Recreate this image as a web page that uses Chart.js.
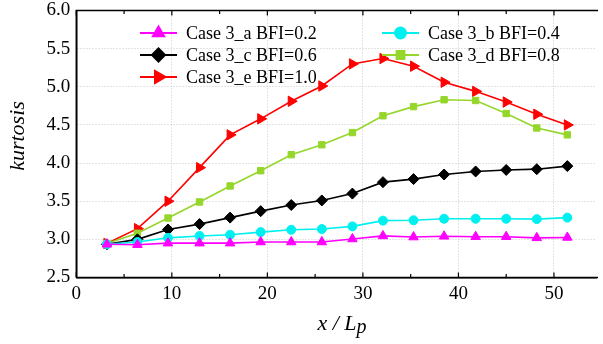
<!DOCTYPE html>
<html><head><meta charset="utf-8">
<script src="https://cdn.jsdelivr.net/npm/chart.js@4/dist/chart.umd.min.js"></script>
<style>html,body{margin:0;padding:0;background:#fff;overflow:hidden}</style>
</head><body>
<canvas id="c" width="603" height="344" style="width:603px;height:344px;display:block"></canvas>
<script>
// x / Lp positions
const xPositions = [3.2, 6.4, 9.6, 12.9, 16.1, 19.3, 22.5, 25.7, 28.9, 32.1, 35.3, 38.5, 41.8, 45.0, 48.2, 51.4];
// kurtosis per case
const caseA = [2.935, 2.93, 2.95, 2.95, 2.95, 2.965, 2.965, 2.965, 3.005, 3.045, 3.03, 3.04, 3.035, 3.035, 3.02, 3.025];
const caseB = [2.935, 2.965, 3.02, 3.045, 3.06, 3.095, 3.125, 3.135, 3.17, 3.245, 3.25, 3.27, 3.27, 3.27, 3.265, 3.285];
const caseC = [2.935, 3.00, 3.13, 3.20, 3.285, 3.37, 3.45, 3.51, 3.60, 3.75, 3.79, 3.85, 3.89, 3.91, 3.92, 3.96];
const caseD = [2.945, 3.08, 3.28, 3.49, 3.70, 3.90, 4.11, 4.24, 4.40, 4.62, 4.74, 4.83, 4.82, 4.65, 4.46, 4.37];
const caseE = [2.945, 3.14, 3.50, 3.94, 4.37, 4.58, 4.81, 5.01, 5.30, 5.37, 5.27, 5.06, 4.94, 4.80, 4.64, 4.50];
const seriesLabels = ['Case 3_a BFI=0.2', 'Case 3_b BFI=0.4', 'Case 3_c BFI=0.6', 'Case 3_d BFI=0.8', 'Case 3_e BFI=1.0'];
const xTickValues = [0, 10, 20, 30, 40, 50];
const yTickValues = [2.5, 3.0, 3.5, 4.0, 4.5, 5.0, 5.5, 6.0];

const SERIF = '"Liberation Serif", "Times New Roman", Times, serif';
const styles = [
  {color: '#ff00ff', pointStyle: 'triangle', radius: 5.5, rotation: 0},
  {color: '#00f0f0', pointStyle: 'circle', radius: 4.5, rotation: 0},
  {color: '#000000', pointStyle: 'rectRot', radius: 5.5, rotation: 0},
  {color: '#95d62a', pointStyle: 'rect', radius: 4.5, rotation: 0},
  {color: '#ff0000', pointStyle: 'triangle', radius: 6, rotation: 90}
];
const seriesData = [caseA, caseB, caseC, caseD, caseE];

function build() {
const datasets = seriesData.map((vals, i) => ({
  label: seriesLabels[i],
  data: vals.map((v, j) => ({x: xPositions[j], y: v})),
  borderColor: styles[i].color,
  backgroundColor: styles[i].color,
  borderWidth: 1.6,
  pointStyle: styles[i].pointStyle,
  pointRadius: styles[i].radius,
  pointRotation: styles[i].rotation,
  pointBorderWidth: 1,
  tension: 0
}));

const decorPlugin = {
  id: 'decor',
  afterDraw(chart) {
    const ctx = chart.ctx;
    const xs = chart.scales.x;
    const a = chart.chartArea;
    ctx.save();
    ctx.setLineDash([]);
    ctx.strokeStyle = '#000';
    ctx.lineWidth = 1.5;
    ctx.beginPath();
    ctx.moveTo(a.left, a.bottom); ctx.lineTo(a.left, a.top); ctx.lineTo(a.right + 2, a.top);
    ctx.moveTo(a.left, a.bottom); ctx.lineTo(a.right + 2, a.bottom);
    ctx.stroke();
    ctx.lineWidth = 1.2;
    ctx.beginPath();
    for (let v = 0; v <= xs.max; v += 5) {
      const px = xs.getPixelForValue(v);
      const len = (v % 10 === 0) ? 5 : 3.5;
      ctx.moveTo(px, a.bottom); ctx.lineTo(px, a.bottom - len);
      ctx.moveTo(px, a.top); ctx.lineTo(px, a.top + len);
    }
    ctx.stroke();
    ctx.fillStyle = '#000';
    ctx.font = 'italic 22px ' + SERIF;
    ctx.textBaseline = 'middle';
    ctx.save();
    ctx.translate(18, 136);
    ctx.rotate(-Math.PI / 2);
    ctx.textAlign = 'center';
    ctx.fillText('kurtosis', 0, 0);
    ctx.restore();
    const main = 'x / L';
    ctx.font = 'italic 22px ' + SERIF;
    const w1 = ctx.measureText(main).width;
    ctx.font = 'italic 20px ' + SERIF;
    const w2 = ctx.measureText('p').width;
    const cx = 342;
    const startX = cx - (w1 + w2) / 2;
    ctx.textAlign = 'left';
    ctx.textBaseline = 'alphabetic';
    ctx.font = 'italic 22px ' + SERIF;
    ctx.fillText(main, startX, 330);
    ctx.font = 'italic 20px ' + SERIF;
    ctx.fillText('p', startX + w1, 333);
    const pos = [
      {x: 140, y: 33}, {x: 382, y: 33},
      {x: 140, y: 55}, {x: 382, y: 55},
      {x: 140, y: 77}
    ];
    chart.data.datasets.forEach((ds, i) => {
      const p = pos[i];
      ctx.strokeStyle = ds.borderColor;
      ctx.lineWidth = 2;
      ctx.beginPath();
      ctx.moveTo(p.x, p.y); ctx.lineTo(p.x + 37, p.y);
      ctx.stroke();
      ctx.fillStyle = ds.backgroundColor;
      Chart.helpers.drawPoint(ctx, {
        pointStyle: ds.pointStyle,
        radius: ds.pointRadius + 1,
        rotation: ds.pointRotation,
        borderWidth: 1
      }, p.x + 18.5, p.y);
      ctx.fillStyle = '#000';
      ctx.font = '18px ' + SERIF;
      ctx.textAlign = 'left';
      ctx.textBaseline = 'middle';
      ctx.fillText(ds.label, p.x + 46, p.y + 1);
    });
    ctx.restore();
  }
};

new Chart(document.getElementById('c'), {
  type: 'line',
  data: {datasets},
  options: {
    responsive: false,
    animation: false,
    devicePixelRatio: 1,
    layout: {padding: {top: 10.5, right: 0, left: 0, bottom: 0}},
    plugins: {legend: {display: false}, tooltip: {enabled: false}},
    scales: {
      x: {
        type: 'linear',
        min: 0, max: 54.4,
        afterBuildTicks: s => { s.ticks = xTickValues.map(v => ({value: v})); },
        afterFit: s => { s.height = 66.5; s.paddingLeft = 0; s.paddingRight = 0; },
        ticks: {
          color: '#000', font: {family: SERIF, size: 19}, padding: 5,
          maxRotation: 0, autoSkip: false,
          callback: v => String(v)
        },
        grid: {color: '#c8c8c8', drawTicks: false, lineWidth: 1},
        border: {display: true, color: '#000', width: 1.5, dash: [1, 2]}
      },
      y: {
        type: 'linear',
        min: 2.5, max: 6.0,
        afterBuildTicks: s => { s.ticks = yTickValues.map(v => ({value: v})); },
        afterFit: s => { s.width = 76.3; s.paddingTop = 0; s.paddingBottom = 0; },
        ticks: {
          color: '#000', font: {family: SERIF, size: 19}, padding: 6,
          callback: v => Number(v).toFixed(1)
        },
        grid: {color: '#c8c8c8', drawTicks: false, lineWidth: 1},
        border: {display: true, color: '#000', width: 1.5, dash: [1, 2]}
      }
    }
  },
  plugins: [decorPlugin]
});
}

Promise.all([
  document.fonts.load('19px "Liberation Serif"'),
  document.fonts.load('italic 22px "Liberation Serif"')
]).then(build, build);
</script>
</body></html>
